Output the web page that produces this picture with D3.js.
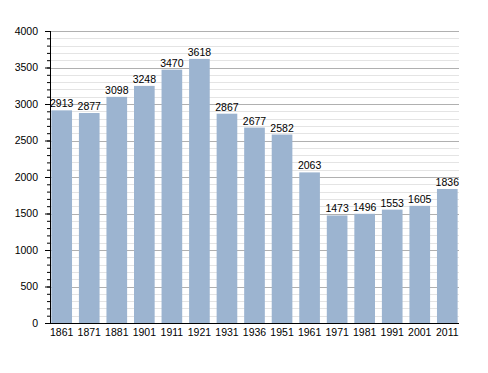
<!DOCTYPE html>
<html>
<head>
<meta charset="utf-8">
<script src="https://cdn.jsdelivr.net/npm/d3@7"></script>
<style>
  body { margin: 0; background: #fff; }
  text { font-family: "Liberation Sans", Arial, sans-serif; font-size: 10.5px; fill: #000; }
</style>
</head>
<body>
<div id="chart"></div>
<script>
var years = ["1861","1871","1881","1901","1911","1921","1931","1936","1951","1961","1971","1981","1991","2001","2011"];
var population = [2913,2877,3098,3248,3470,3618,2867,2677,2582,2063,1473,1496,1553,1605,1836];
var yTicks = [0,500,1000,1500,2000,2500,3000,3500,4000];

var svgWidth = 488;
var svgHeight = 373;
var margin = { top: 31, right: 29, bottom: 50, left: 50 };
var width = svgWidth - margin.left - margin.right;
var height = svgHeight - margin.top - margin.bottom;

var svg = d3.select("#chart")
  .append("svg")
  .attr("width", svgWidth)
  .attr("height", svgHeight);

var g = svg.append("g")
  .attr("transform", "translate(" + margin.left + "," + margin.top + ")");

var x = d3.scaleBand().domain(years).range([0, width]).paddingInner(0.25).paddingOuter(0.05);
var y = d3.scaleLinear().domain([0, 4000]).range([height, 0]);

// minor grid every 100
g.append("g").selectAll("line")
  .data(d3.range(100, 4001, 100).filter(function(v){ return v % 500 !== 0; }))
  .enter().append("line")
  .attr("x1", 0).attr("x2", width)
  .attr("y1", function(d){ return Math.round(y(d)) + 0.5; })
  .attr("y2", function(d){ return Math.round(y(d)) + 0.5; })
  .attr("stroke", "#e4e4e4");

// major grid
g.append("g").selectAll("line")
  .data(yTicks.slice(1))
  .enter().append("line")
  .attr("x1", 0).attr("x2", width)
  .attr("y1", function(d){ return Math.round(y(d)) + 0.5; })
  .attr("y2", function(d){ return Math.round(y(d)) + 0.5; })
  .attr("stroke", "#b0b0b0");

// bars
g.selectAll(".bar")
  .data(population)
  .enter().append("rect")
  .attr("class", "bar")
  .attr("x", function(d, i){ return x(years[i]); })
  .attr("width", x.bandwidth())
  .attr("y", function(d){ return y(d); })
  .attr("height", function(d){ return height - y(d); })
  .attr("fill", "#9cb4d0");

// value labels
g.selectAll(".val")
  .data(population)
  .enter().append("text")
  .attr("x", function(d, i){ return x(years[i]) + x.bandwidth() / 2; })
  .attr("y", function(d){ return y(d) - 3; })
  .attr("text-anchor", "middle")
  .text(function(d){ return d; });

// y axis with minor ticks
var yMinor = d3.axisLeft(y).tickValues(d3.range(0, 4001, 100)).tickSize(3).tickFormat("");
g.append("g").call(yMinor).call(function(s){ s.select(".domain").remove(); })
  .selectAll("line").attr("stroke", "#000");

var yAxis = d3.axisLeft(y).tickValues(yTicks).tickSize(5).tickPadding(7).tickFormat(d3.format("d"));
g.append("g").call(yAxis)
  .call(function(s){
    s.select(".domain").attr("d", "M0.5,0V" + height);
    s.selectAll("text").style("font-family", "Liberation Sans, Arial, sans-serif").style("font-size", "10.5px");
  });

// x axis
var xAxis = d3.axisBottom(x).tickSize(0).tickPadding(6);
g.append("g")
  .attr("transform", "translate(0," + height + ")")
  .call(xAxis)
  .call(function(s){
    s.select(".domain").attr("d", "M0,0.5H" + width).attr("stroke", "#000");
    s.selectAll("text").style("font-family", "Liberation Sans, Arial, sans-serif").style("font-size", "10.5px");
  });
</script>
</body>
</html>
